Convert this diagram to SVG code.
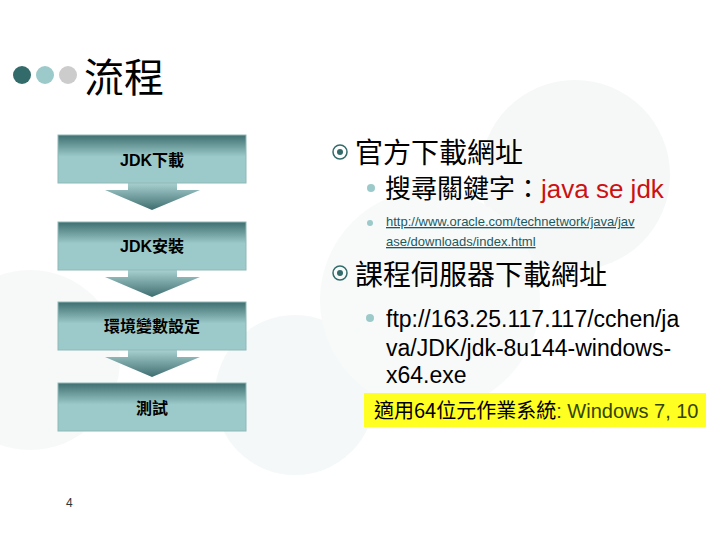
<svg xmlns="http://www.w3.org/2000/svg" width="720" height="540" viewBox="0 0 720 540">
<defs>
<linearGradient id="bg" x1="0" y1="0" x2="0" y2="1"><stop offset="0" stop-color="#3f6e70"/><stop offset="0.45" stop-color="#9ccaca"/><stop offset="1" stop-color="#9ccaca"/></linearGradient>
<linearGradient id="ag" x1="0" y1="0" x2="0" y2="1"><stop offset="0" stop-color="#a8d0d0"/><stop offset="1" stop-color="#3f6e70"/></linearGradient>
<style>
.box{fill:url(#bg);stroke:#8fb8b8;stroke-width:1}
.arr{fill:url(#ag)}
.bt{font-family:"Liberation Sans","Noto Sans CJK TC",sans-serif;font-weight:bold;font-size:16px;text-anchor:middle;fill:#000}
.cj{font-family:"Noto Sans CJK TC",sans-serif;fill:#000}
.ls{font-family:"Liberation Sans","Noto Sans CJK TC",sans-serif}
</style>
</defs>
<rect width="720" height="540" fill="#fff"/>
<g opacity="0.5">
<circle cx="575" cy="175" r="95" fill="#eef2f2"/>
<circle cx="295" cy="395" r="80" fill="#eaf3f3"/>
<circle cx="430" cy="300" r="110" fill="#f2f6f6"/>
<circle cx="30" cy="360" r="90" fill="#f1f4f4"/>
</g>
<circle cx="22" cy="75" r="9" fill="#336b6b"/>
<circle cx="45" cy="75" r="9" fill="#9ccaca"/>
<circle cx="68" cy="75" r="9" fill="#cccccc"/>
<text x="84" y="92" class="cj" font-size="40">流程</text>
<g id="connectors">
<polygon class="arr" points="128,183 177,183 177,190 200,190 152,210 105,190 128,190"/>
<polygon class="arr" points="128,270 177,270 177,277 200,277 152,297 105,277 128,277"/>
<polygon class="arr" points="128,350 177,350 177,357 200,357 152,377 105,357 128,357"/>
</g>
<g id="n1"><rect class="box" x="58" y="135" width="188" height="48"/><text class="bt" x="152" y="166">JDK下載</text></g>
<g id="n2"><rect class="box" x="58" y="222" width="188" height="48"/><text class="bt" x="152" y="252">JDK安裝</text></g>
<g id="n3"><rect class="box" x="58" y="302" width="188" height="48"/><text class="bt" x="152" y="332">環境變數設定</text></g>
<g id="n4"><rect class="box" x="58" y="383" width="188" height="48"/><text class="bt" x="152" y="414">測試</text></g>
<text x="66" y="507" class="ls" font-size="12" fill="#333">4</text>
<g fill="none" stroke="#336b6b" stroke-width="1.5"><circle cx="340" cy="152" r="7"/><circle cx="340" cy="273" r="7"/></g>
<g fill="#336b6b"><circle cx="340" cy="152" r="3"/><circle cx="340" cy="273" r="3"/></g>
<text x="355" y="163" class="cj" font-size="28">官方下載網址</text>
<circle cx="371" cy="188" r="4" fill="#9ccaca"/>
<text x="385" y="198" class="cj" font-size="26">搜尋關鍵字：<tspan class="ls" fill="#cc1111">java se jdk</tspan></text>
<circle cx="370" cy="223" r="3" fill="#9ccaca"/>
<text class="ls" font-size="13" fill="#1a5a60" text-decoration="underline"><tspan x="386" y="226">http://www.oracle.com/technetwork/java/jav</tspan><tspan x="386" y="246">ase/downloads/index.html</tspan></text>
<text x="355" y="285" class="cj" font-size="28">課程伺服器下載網址</text>
<circle cx="370" cy="318" r="4" fill="#9ccaca"/>
<text class="ls" font-size="23" fill="#000"><tspan x="386" y="327">ftp://163.25.117.117/cchen/ja</tspan><tspan x="386" y="356">va/JDK/jdk-8u144-windows-</tspan><tspan x="386" y="383">x64.exe</tspan></text>
<rect x="364" y="393" width="342" height="34" fill="#ffff22"/>
<text x="374" y="418" font-size="20" fill="#334400"><tspan class="cj">適用64位元作業系統</tspan><tspan class="ls">: Windows 7, 10</tspan></text>
</svg>
